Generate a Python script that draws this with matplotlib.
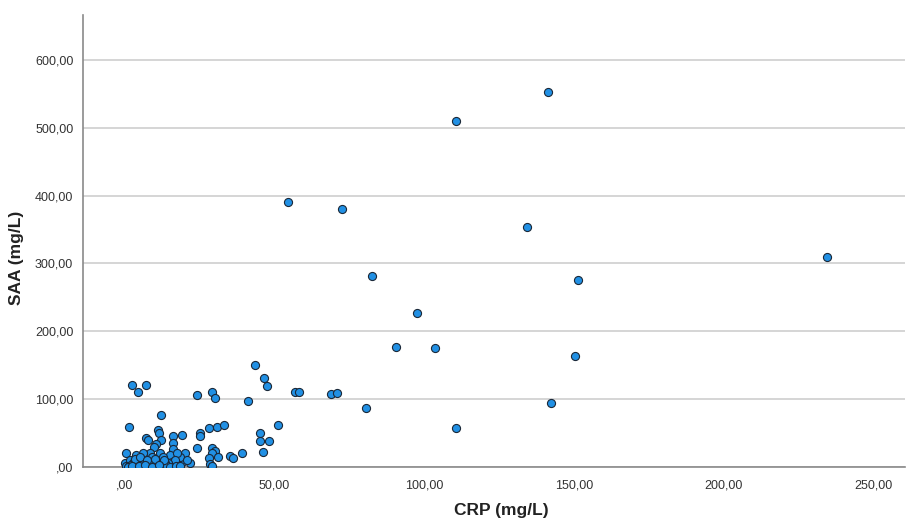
import matplotlib
matplotlib.use("Agg")
import matplotlib.pyplot as plt
from matplotlib.ticker import FuncFormatter

# CRP (mg/L) and SAA (mg/L) values
crp = [
    141.5, 110.5, 54.5, 72.5, 134.5, 234.5, 151.5, 82.5, 97.5, 90.5,
    103.5, 150.5, 142.5, 110.5, 80.5, 43.5, 46.5, 47.5, 57.0, 58.3,
    69.0, 71.0, 24.0, 29.0, 30.0, 41.0, 2.4, 4.4, 7.0, 12.0,
    51.0, 28.0, 30.8, 33.0, 1.3, 11.0, 11.5, 7.0, 7.8, 12.0,
    16.0, 19.0, 16.0, 10.5, 9.7, 25.0, 25.0, 45.0, 45.0, 48.0,
    46.0, 24.0, 29.0, 30.0, 29.0, 31.0, 35.0, 36.0, 39.0, 28.0,
    28.4, 29.0, 21.7, 20.0, 19.0, 18.4, 20.6, 16.0, 16.0, 15.0,
    17.3, 11.7, 12.8, 8.4, 9.0, 6.0, 3.7, 0.3, 10.0, 15.6,
    16.7, 14.5, 0.0, 1.7, 2.8, 4.4, 5.6, 7.2, 8.4, 10.6,
    12.3, 13.4, 0.5, 1.5, 3.0, 4.0, 5.0, 6.5, 8.0, 9.5,
    11.0, 12.0, 14.0, 15.0, 17.0, 18.5, 2.0, 6.0, 9.0, 3.5,
    5.0, 7.5, 10.0, 13.0, 1.0, 2.5, 4.8, 6.8, 9.2, 11.5,
]
saa = [
    553, 510, 390, 380, 354, 310, 276, 282, 227, 177,
    175, 164, 95, 57, 87, 150, 131, 120, 111, 111,
    108, 108.5, 106, 111, 101, 97, 121, 111, 121, 77,
    62, 58, 59, 61.5, 59, 55, 50, 43, 40, 40,
    46, 47, 35, 34, 30, 50, 45, 50, 39, 39,
    22.6, 28, 28, 23, 20, 15, 16, 13.5, 20, 13,
    5, 2, 6, 20, 8, 14, 11, 22.6, 26, 17.7,
    20, 20, 15, 21, 15, 20, 17.7, 21, 8, 8,
    11, 5.5, 5.5, 10, 5.5, 8, 3, 6, 3, 5.5,
    3, 6, 1, 2, 1, 0.5, 2, 1, 0.5, 1.5,
    1, 0.5, 1.5, 0.5, 1, 2, 3, 4, 7, 12,
    14, 11, 12, 10, 0.5, 1.5, 1, 2.5, 0.5, 3,
]

x_ticks = [0, 50, 100, 150, 200, 250]
y_ticks = [0, 100, 200, 300, 400, 500, 600]

plt.rcParams['font.family'] = ['Liberation Sans', 'DejaVu Sans']

fig = plt.figure(figsize=(9.07, 5.22), dpi=100)
ax = fig.add_axes([83/907, 55/522, (905-83)/907, (467-15)/522])

ax.set_xlim(-14.0, 260.7)
ax.set_ylim(0, 666)

ax.set_yticks(y_ticks)
ax.set_xticks(x_ticks)

def comma_fmt(v, pos):
    s = f"{v:.2f}".replace('.', ',')
    if s.startswith('0,'):
        s = s[1:]
    return s

ax.xaxis.set_major_formatter(FuncFormatter(comma_fmt))
ax.yaxis.set_major_formatter(FuncFormatter(comma_fmt))

ax.grid(axis='y', color='#d2d2d2', linewidth=1.3, zorder=0)
ax.set_axisbelow(True)

ax.scatter(crp, saa, s=34, facecolor='#2190e4', edgecolor='#1b2838',
           linewidth=0.8, zorder=3)

for side in ['top', 'right']:
    ax.spines[side].set_visible(False)
for side in ['left', 'bottom']:
    ax.spines[side].set_color('#8a8a8a')
    ax.spines[side].set_linewidth(1.2)

ax.tick_params(axis='both', length=0, labelsize=9, colors='#333333')
ax.tick_params(axis='x', pad=9)
ax.tick_params(axis='y', pad=7)

ax.set_xlabel('CRP (mg/L)', fontsize=12.5, fontweight='bold', color='#222222')
ax.set_ylabel('SAA (mg/L)', fontsize=12.5, fontweight='bold', color='#222222')
ax.xaxis.set_label_coords(0.5 + (500 - 494) / 822 * 0, -44 / 452)
ax.xaxis.label.set_va('center')
ax.yaxis.set_label_coords(-66 / 822, 0.5 + (0) / 452)
ax.yaxis.label.set_va('center')
# reference label centres: CRP at x~501, SAA at y~258
ax.xaxis.set_label_coords((501 - 83) / 822, -44 / 452)
ax.yaxis.set_label_coords(-66 / 822, (467 - 258) / 452)

fig.savefig('out.png', dpi=100)
